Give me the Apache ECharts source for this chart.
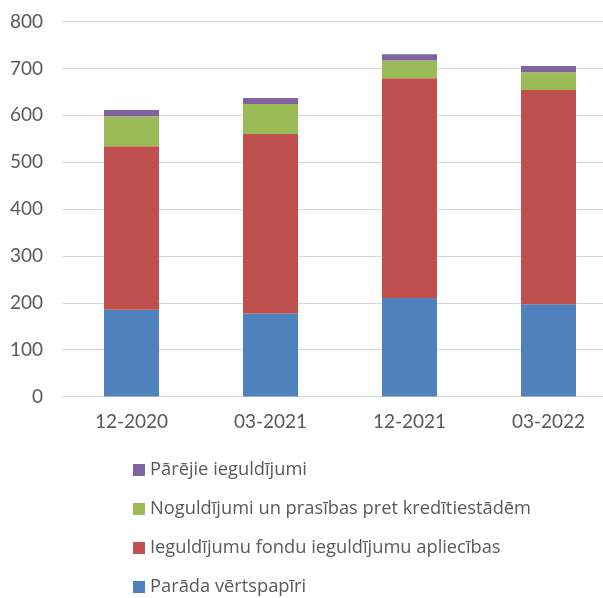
<!DOCTYPE html>
<html>
<head>
<meta charset="utf-8">
<script src="https://cdn.jsdelivr.net/npm/echarts@6/dist/echarts.min.js"></script>
<style>
  html, body { margin: 0; padding: 0; background: #ffffff; }
  #chart { width: 603px; height: 598px; }
</style>
</head>
<body>
<div id="chart"></div>
<script>
// Periods on the category axis
const periods = ['12-2020', '03-2021', '12-2021', '03-2022'];

// Stacked components (values per period)
const debtSecurities = [185, 177, 210, 197];     // Parāda vērtspapīri
const fundShares = [349, 383, 469, 457];         // Ieguldījumu fondu ieguldījumu apliecības
const deposits = [64, 64, 38, 38];               // Noguldījumi un prasības pret kredītiestādēm
const otherInvestments = [13, 13, 13, 13];       // Pārējie ieguldījumi

// Value axis ticks
const yTicks = [0, 100, 200, 300, 400, 500, 600, 700, 800];

const names = {
  debt: 'Parāda vērtspapīri',
  funds: 'Ieguldījumu fondu ieguldījumu apliecības',
  deposits: 'Noguldījumi un prasības pret kredītiestādēm',
  other: 'Pārējie ieguldījumi'
};

const textColor = '#595959';
const fontFamily = 'Lato, "Open Sans", sans-serif';

const chart = echarts.init(document.getElementById('chart'), null, { renderer: 'canvas' });

function bar(name, data, color) {
  return {
    name: name,
    type: 'bar',
    stack: 'total',
    data: data,
    barWidth: 55,
    itemStyle: { color: color },
    emphasis: { disabled: true }
  };
}

chart.setOption({
  animation: false,
  textStyle: { fontFamily: fontFamily },
  // plot area runs past the right edge of the canvas
  grid: { left: 62, top: 21.5, width: 556, height: 375, containLabel: false, outerBoundsMode: 'none' },
  xAxis: {
    type: 'category',
    data: periods,
    axisLine: { show: true, lineStyle: { color: '#d9d9d9', width: 1 } },
    axisTick: { show: false },
    axisLabel: { color: textColor, fontSize: 19, margin: 16, fontFamily: fontFamily }
  },
  yAxis: {
    type: 'value',
    min: yTicks[0],
    max: yTicks[yTicks.length - 1],
    interval: yTicks[1] - yTicks[0],
    axisLine: { show: false },
    axisTick: { show: false },
    splitLine: { lineStyle: { color: '#d9d9d9', width: 1 } },
    axisLabel: { color: textColor, fontSize: 19, margin: 19, fontFamily: fontFamily }
  },
  legend: {
    orient: 'vertical',
    left: 128,
    top: 456,
    height: 160,
    itemGap: 21,
    itemWidth: 12,
    itemHeight: 12,
    icon: 'rect',
    textStyle: { color: textColor, fontSize: 18.3, fontFamily: '"Open Sans", Lato, sans-serif' },
    data: [names.other, names.deposits, names.funds, names.debt]
  },
  series: [
    bar(names.debt, debtSecurities, '#4f81bd'),
    bar(names.funds, fundShares, '#c0504d'),
    bar(names.deposits, deposits, '#9bbb59'),
    bar(names.other, otherInvestments, '#8064a2')
  ]
});
</script>
</body>
</html>
